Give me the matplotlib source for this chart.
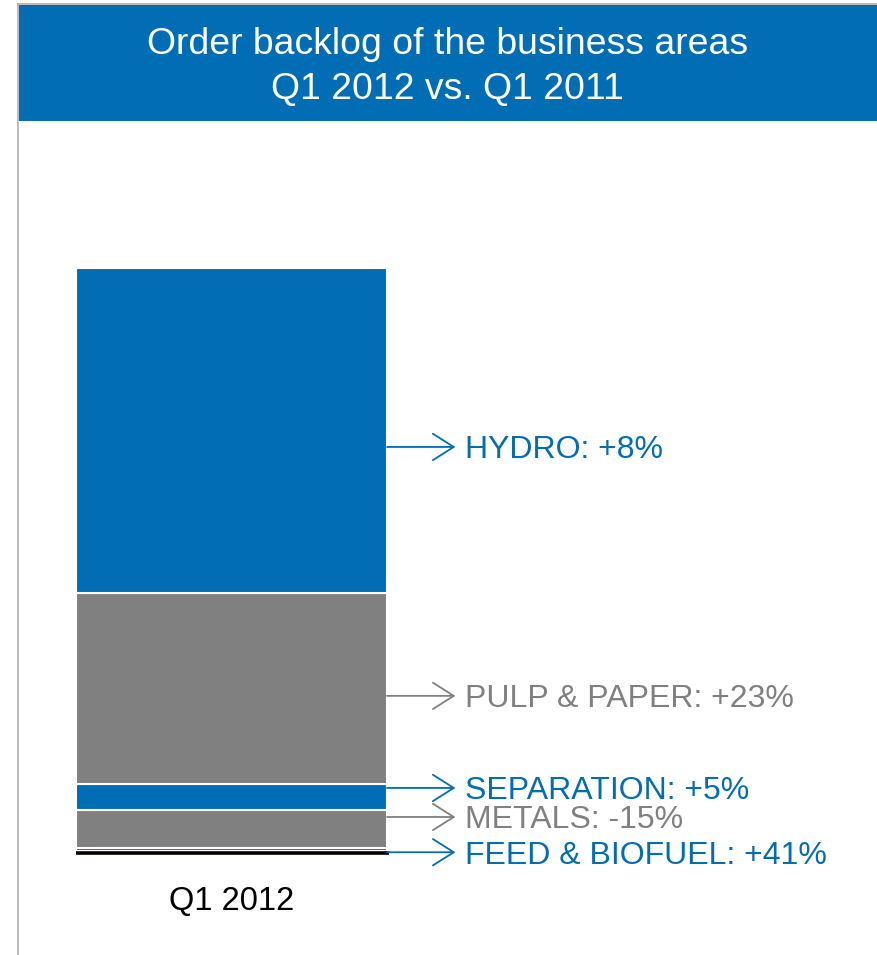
import matplotlib.pyplot as plt
import matplotlib.transforms as mtransforms
from matplotlib.patches import Rectangle
from matplotlib.lines import Line2D

plt.rcParams["font.family"] = ["Liberation Sans", "DejaVu Sans"]

# ── Data (order backlog, MEUR, stacked bottom -> top) ───────────────────────
areas   = ["FEED & BIOFUEL", "METALS", "SEPARATION", "PULP & PAPER", "HYDRO"]
backlog = [42, 458, 307, 2300, 3920]
changes = ["+41%", "-15%", "+5%", "+23%", "+8%"]
label_y = [-15, 410, 760, 1870, 4870]    # where each callout arrow points
period  = "Q1 2012"

BLUE = "#006db5"
GREY = "#808080"
colors = [BLUE, GREY, BLUE, GREY, BLUE]

W, H = 877, 955
fig = plt.figure(figsize=(W / 100, H / 100), dpi=100)
fig.patch.set_facecolor("white")

# ── Header banner and frame ─────────────────────────────────────────────────
fig.add_artist(Rectangle((19 / W, 1 - 121 / H), 1 - 19 / W, 116 / H,
                         transform=fig.transFigure, facecolor=BLUE,
                         edgecolor="none"))
fig.add_artist(Line2D([18 / W, 18 / W], [0, 1 - 4.5 / H],
                      transform=fig.transFigure, color="#b0b0b0", lw=1.2))
fig.add_artist(Line2D([18 / W, 1], [1 - 4.5 / H, 1 - 4.5 / H],
                      transform=fig.transFigure, color="#b0b0b0", lw=1.2))
fig.text(0.5 + 9 / W, 1 - 44 / H, "Order backlog of the business areas",
         color="white", fontsize=26.9, ha="center", va="center")
fig.text(0.5 + 9 / W, 1 - 89 / H, "Q1 2012 vs. Q1 2011",
         color="white", fontsize=26.9, ha="center", va="center")

# ── Stacked bar ─────────────────────────────────────────────────────────────
total = sum(backlog)
ax = fig.add_axes([76 / W, 104 / H, 1 - 76 / W, 583 / H])
ax.set_xlim(0, (W - 76) / 311)
ax.set_ylim(0, total)
ax.axis("off")

bottom = 0
for val, col in zip(backlog, colors):
    ax.bar(0, val, width=1, bottom=bottom, align="edge", color=col,
           edgecolor="white", linewidth=1.5)
    bottom += val

# baseline sits just under the stack so the thin bottom segment stays visible
below = ax.transData + mtransforms.ScaledTranslation(0, -1.6 / 100,
                                                     fig.dpi_scale_trans)
ax.plot([0, 1.005], [0, 0], color="black", lw=2.6, transform=below,
        solid_capstyle="butt", clip_on=False)

# ── Callouts ────────────────────────────────────────────────────────────────
for name, chg, y, col in zip(areas, changes, label_y, colors):
    ax.annotate("", xy=(1.22, y), xytext=(1.0, y),
                arrowprops=dict(arrowstyle="->,head_length=1.5,head_width=0.95",
                                color=col, lw=1.3, shrinkA=0, shrinkB=0,
                                mutation_scale=10),
                annotation_clip=False)
    ax.text(1.252, y, f"{name}: {chg}", color=col, fontsize=23,
            ha="left", va="center_baseline", clip_on=False)

ax.text(0.5, -total * 50 / 583, period, fontsize=23.5, ha="center",
        va="center", clip_on=False)

plt.savefig("out.png", dpi=100, facecolor=fig.get_facecolor())
